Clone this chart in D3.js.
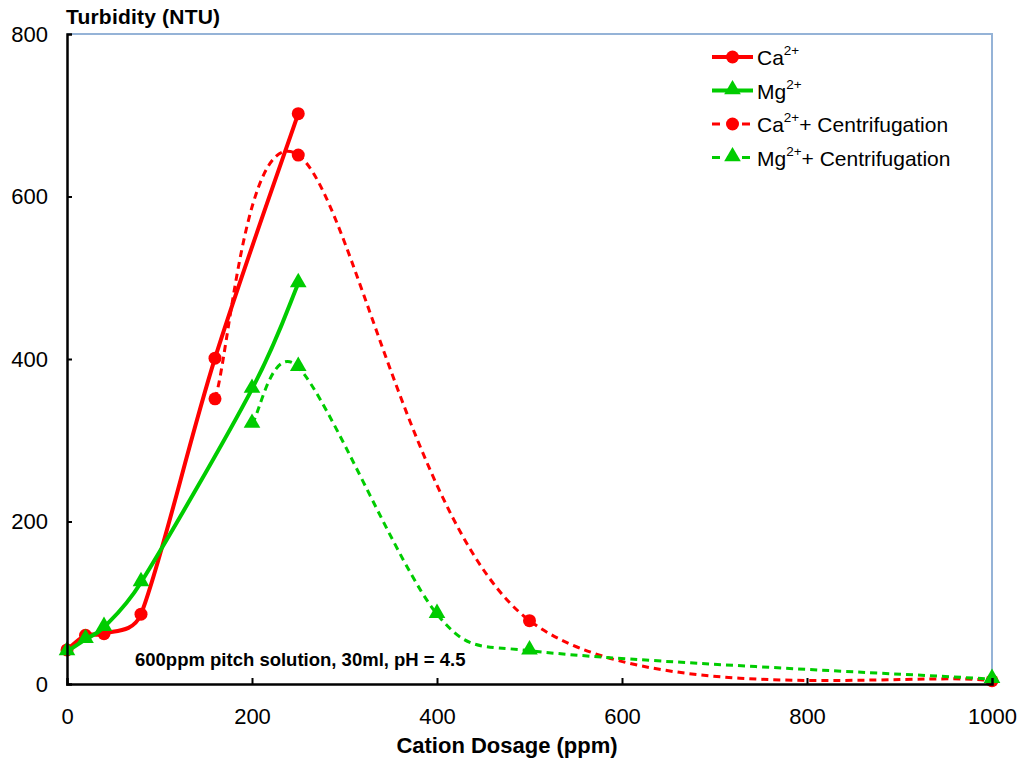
<!DOCTYPE html>
<html>
<head>
<meta charset="utf-8">
<script src="https://cdn.jsdelivr.net/npm/d3@7"></script>
<style>
  body { margin: 0; background: #fff; }
  text { font-family: Arial, "Liberation Sans", sans-serif; }
</style>
</head>
<body>
<div id="chart"></div>
<script>
// Turbidity vs cation dosage
const caX  = [0, 20, 40, 80, 160, 250];
const caY  = [42, 60, 62, 86, 401, 702];
const mgX  = [0, 20, 40, 80, 200, 250];
const mgY  = [40, 55, 70, 125, 363, 493];
const caCX = [160, 250, 500, 1000];
const caCY = [351, 651, 78, 4];
const mgCX = [200, 250, 400, 500, 1000];
const mgCY = [320, 390, 86, 41, 6];
const xTicks = [0, 200, 400, 600, 800, 1000];
const yTicks = [0, 200, 400, 600, 800];

const W = 1023, H = 763;
const m = { left: 67, right: 31, top: 34, bottom: 79 };

const svg = d3.select("#chart").append("svg")
  .attr("width", W).attr("height", H);

const x = d3.scaleLinear().domain([0, 1000]).range([m.left, W - m.right]);
const y = d3.scaleLinear().domain([0, 800]).range([H - m.bottom, m.top]);

const red = "#ff0000", green = "#00cc00";

// frame: top + right in light blue
svg.append("path")
  .attr("d", `M${x(0)},${y(800)}H${x(1000)}V${y(0)}`)
  .attr("fill", "none").attr("stroke", "#95b3d7").attr("stroke-width", 2);

const series = [
  { name: "Ca", xs: caX, ys: caY, color: red, dash: null, marker: "circle" },
  { name: "Mg", xs: mgX, ys: mgY, color: green, dash: null, marker: "triangle" },
  { name: "Ca c", xs: caCX, ys: caCY, color: red, dash: "7,5", marker: "circle" },
  { name: "Mg c", xs: mgCX, ys: mgCY, color: green, dash: "7,5", marker: "triangle" }
];

// spreadsheet-style smoothing: bezier with tangents (next - prev) / 6,
// capped at half of the segment length
function smoothPath(p) {
  const path = d3.path();
  path.moveTo(p[0][0], p[0][1]);
  const tan = (i, len) => {
    const a = p[Math.max(i - 1, 0)], b = p[Math.min(i + 1, p.length - 1)];
    let dx = (b[0] - a[0]) / 6, dy = (b[1] - a[1]) / 6;
    const l = Math.hypot(dx, dy);
    if (l > len / 2) { dx *= len / 2 / l; dy *= len / 2 / l; }
    return [dx, dy];
  };
  for (let i = 0; i < p.length - 1; i++) {
    const len = Math.hypot(p[i + 1][0] - p[i][0], p[i + 1][1] - p[i][1]);
    const t1 = tan(i, len), t2 = tan(i + 1, len);
    path.bezierCurveTo(p[i][0] + t1[0], p[i][1] + t1[1],
      p[i + 1][0] - t2[0], p[i + 1][1] - t2[1], p[i + 1][0], p[i + 1][1]);
  }
  return path.toString();
}

const tri = d3.symbol().type(d3.symbolTriangle).size(120);

function drawMarker(g, type, color, cx, cy) {
  if (type === "circle") {
    g.append("circle").attr("cx", cx).attr("cy", cy).attr("r", 6.5).attr("fill", color);
  } else {
    g.append("path").attr("d", tri()).attr("fill", color)
      .attr("transform", `translate(${cx},${cy - 1})`);
  }
}

// draw dashed first, then solid on top
[series[2], series[3], series[0], series[1]].forEach(s => {
  const pts = s.xs.map((v, i) => [x(v), y(s.ys[i])]);
  const g = svg.append("g");
  g.append("path")
    .attr("d", smoothPath(pts))
    .attr("fill", "none")
    .attr("stroke", s.color)
    .attr("stroke-width", s.dash ? 3 : 4)
    .attr("stroke-dasharray", s.dash);
  pts.forEach(p => drawMarker(g, s.marker, s.color, p[0], p[1]));
});

// axes
const xAxis = svg.append("g")
  .attr("transform", `translate(0,${y(0)})`)
  .call(d3.axisBottom(x).tickValues(xTicks).tickFormat(d3.format("d")).tickSize(-6).tickPadding(24));
const yAxis = svg.append("g")
  .attr("transform", `translate(${x(0)},0)`)
  .call(d3.axisLeft(y).tickValues(yTicks).tickFormat(d3.format("d")).tickSize(-5).tickPadding(19));

[xAxis, yAxis].forEach(a => {
  a.select(".domain").attr("stroke", "#000").attr("stroke-width", 2.5);
  a.selectAll(".tick line").attr("stroke", "#000").attr("stroke-width", 2);
  a.selectAll(".tick text").attr("fill", "#000")
    .style("font-size", "22px").style("font-family", "Arial, 'Liberation Sans', sans-serif");
});
xAxis.selectAll(".tick").filter(d => d === 0 || d === 1000).select("line").remove();
yAxis.selectAll(".tick").filter(d => d === 0 || d === 800).select("line").remove();

// titles
svg.append("text")
  .attr("x", 66).attr("y", 24)
  .style("font-size", "21px").style("font-weight", "bold")
  .style("letter-spacing", "0.2px")
  .text("Turbidity (NTU)");

svg.append("text")
  .attr("x", 507).attr("y", 753)
  .attr("text-anchor", "middle")
  .style("font-size", "22px").style("font-weight", "bold")
  .text("Cation Dosage (ppm)");

svg.append("text")
  .attr("x", 135).attr("y", 666)
  .style("font-size", "18.5px").style("font-weight", "bold")
  .text("600ppm pitch solution, 30ml, pH = 4.5");

// legend
const legendItems = [
  { base: "Ca", rest: "", s: series[0] },
  { base: "Mg", rest: "", s: series[1] },
  { base: "Ca", rest: "+ Centrifugation", s: series[2] },
  { base: "Mg", rest: "+ Centrifugation", s: series[3] }
];
const lg = svg.append("g").attr("transform", "translate(712,57)");
legendItems.forEach((d, i) => {
  const g = lg.append("g").attr("transform", `translate(0,${i * 33.5})`);
  g.append("line")
    .attr("x1", 0).attr("x2", 41).attr("y1", 0).attr("y2", 0)
    .attr("stroke", d.s.color)
    .attr("stroke-width", d.s.dash ? 3 : 4)
    .attr("stroke-dasharray", d.s.dash ? "8,7" : null);
  drawMarker(g, d.s.marker, d.s.color, 20.5, 0);
  const t = g.append("text").attr("x", 45).attr("y", 8).style("font-size", "21px");
  t.append("tspan").text(d.base);
  t.append("tspan").attr("dy", -10).style("font-size", "13.5px").text("2+");
  if (d.rest) t.append("tspan").attr("dy", 10).text(d.rest);
});
</script>
</body>
</html>
